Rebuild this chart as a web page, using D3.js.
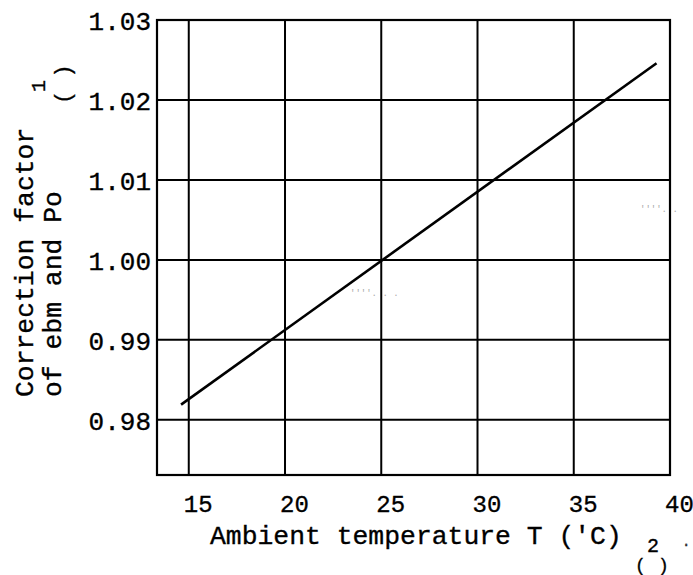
<!DOCTYPE html>
<html><head><meta charset="utf-8">
<script src="https://cdn.jsdelivr.net/npm/d3@7"></script>
<style>body{margin:0;background:#fff} text{stroke:#000;stroke-width:0.35px}</style>
</head><body>
<script>
const xTicks = [15, 20, 25, 30, 35, 40];
const yTicks = [0.98, 0.99, 1.00, 1.01, 1.02, 1.03];
const lineT = [14.6, 39.3];
const lineFactor = [0.9819, 1.0246];
const xTitle = "Ambient temperature T ('C)";
const yTitle = ["Correction factor", "of ebm and Po"];

const W = 693, H = 575;
const L = 157, R = 670, T = 20, B = 475;
const svg = d3.select("body").append("svg").attr("width", W).attr("height", H);
const x = d3.scaleLinear().domain([13.35, 40]).range([L, R]);
const y = d3.scaleLinear().domain([0.9731, 1.03]).range([B, T]);
const font = "'Liberation Mono', 'DejaVu Sans Mono', monospace";

// grid
svg.append("g").selectAll("line").data(xTicks.filter(d => d < 40)).join("line")
  .attr("x1", d => x(d)).attr("x2", d => x(d)).attr("y1", T).attr("y2", B)
  .attr("stroke", "#000").attr("stroke-width", 2);
svg.append("g").selectAll("line").data(yTicks.filter(d => d < 1.03)).join("line")
  .attr("x1", L).attr("x2", R).attr("y1", d => y(d)).attr("y2", d => y(d))
  .attr("stroke", "#000").attr("stroke-width", 2);
svg.append("rect").attr("x", L).attr("y", T).attr("width", R - L).attr("height", B - T)
  .attr("fill", "none").attr("stroke", "#000").attr("stroke-width", 2.2);

// axes labels via d3 axes
const ax = svg.append("g").attr("transform", `translate(0,${B})`)
  .call(d3.axisBottom(x).tickValues(xTicks).tickSize(0).tickPadding(0).tickFormat(d3.format("d")));
ax.select(".domain").remove();
ax.selectAll("text").attr("font-family", font).attr("font-size", 24).attr("fill", "#000")
  .attr("dx", 9).attr("dy", 0).attr("y", 37);

const ay = svg.append("g").attr("transform", `translate(${L},0)`)
  .call(d3.axisLeft(y).tickValues(yTicks).tickSize(0).tickPadding(6).tickFormat(d3.format(".2f")));
ay.select(".domain").remove();
ay.selectAll("text").attr("font-family", font).attr("font-size", 26).attr("fill", "#000")
  .attr("dy", "0.36em");

// data line
svg.append("path")
  .datum(lineT.map((t, i) => [t, lineFactor[i]]))
  .attr("d", d3.line().x(d => x(d[0])).y(d => y(d[1])))
  .attr("stroke", "#000").attr("stroke-width", 2.6).attr("fill", "none");

// titles
svg.append("text").attr("x", 210).attr("y", 544).attr("font-family", font)
  .attr("font-size", 26.4).attr("fill", "#000").text(xTitle);
yTitle.forEach((t, i) => {
  svg.append("text").attr("transform", `translate(${33 + i * 28},397) rotate(-90)`)
    .attr("font-family", font).attr("font-size", 26.4).attr("fill", "#000").text(t);
});

// annotations
svg.append("text").attr("transform", "translate(45,92) rotate(-90)")
  .attr("font-family", font).attr("font-size", 20).attr("fill", "#000").text("1");
svg.append("text").attr("transform", "translate(70,104) rotate(-90)")
  .attr("font-family", font).attr("font-size", 22).attr("fill", "#000").text("( )");
svg.append("text").attr("x", 647).attr("y", 552)
  .attr("font-family", font).attr("font-size", 20).attr("fill", "#000").text("2");
svg.append("text").attr("x", 635).attr("y", 571)
  .attr("font-family", font).attr("font-size", 18).attr("fill", "#000").text("(");
svg.append("text").attr("x", 658).attr("y", 571)
  .attr("font-family", font).attr("font-size", 18).attr("fill", "#000").text(")");
svg.append("text").attr("x", 682).attr("y", 546)
  .attr("font-family", font).attr("font-size", 14).attr("fill", "#444").text(".");
svg.append("text").attr("x", 350).attr("y", 296).style("stroke", "none")
  .attr("font-family", font).attr("font-size", 9).attr("fill", "#aaa").text("''''. . .");
svg.append("text").attr("x", 640).attr("y", 212).style("stroke", "none")
  .attr("font-family", font).attr("font-size", 9).attr("fill", "#aaa").text("''''. .");
</script>
</body></html>
